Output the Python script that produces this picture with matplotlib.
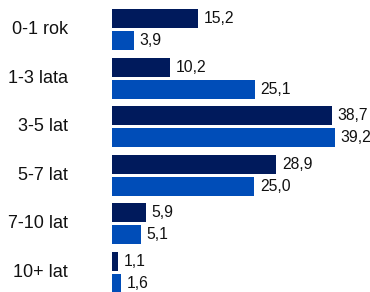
import numpy as np
import matplotlib
matplotlib.use("Agg")
import matplotlib.pyplot as plt

plt.rcParams['font.family'] = ['Liberation Sans', 'DejaVu Sans']

kategorie = ["0-1 rok", "1-3 lata", "3-5 lat", "5-7 lat", "7-10 lat", "10+ lat"]
seria1 = [15.2, 10.2, 38.7, 28.9, 5.9, 1.1]
seria2 = [3.9, 25.1, 39.2, 25.0, 5.1, 1.6]

kolor1 = "#001a5c"
kolor2 = "#004db8"

fig = plt.figure(figsize=(3.70, 2.92), dpi=100)
ax = fig.add_axes([112/370, 0, 258/370, 1])

y = np.arange(len(kategorie))
h = 0.39
d = 0.226

b1 = ax.barh(y - d, seria1, height=h, color=kolor1)
b2 = ax.barh(y + d, seria2, height=h, color=kolor2)

def etykiety(bars, vals):
    for b, v in zip(bars, vals):
        ax.annotate(f"{v:.1f}".replace(".", ","),
                    (b.get_width(), b.get_y() + b.get_height()/2),
                    xytext=(4, 0), textcoords="offset points",
                    va="center", ha="left", fontsize=11.3, color="#111111")

etykiety(b1, seria1)
etykiety(b2, seria2)

ax.set_xlim(0, 45.35)
ax.set_ylim(5.40, -0.607)
ax.set_xticks([])
ax.set_yticks([])
for s in ax.spines.values():
    s.set_visible(False)

for yi, k in zip(y, kategorie):
    ax.annotate(k, (0, yi), xytext=(-44*0.72, 0), textcoords="offset points",
                va="center", ha="right", fontsize=13, color="#111111")

fig.savefig("out.png", dpi=100)
